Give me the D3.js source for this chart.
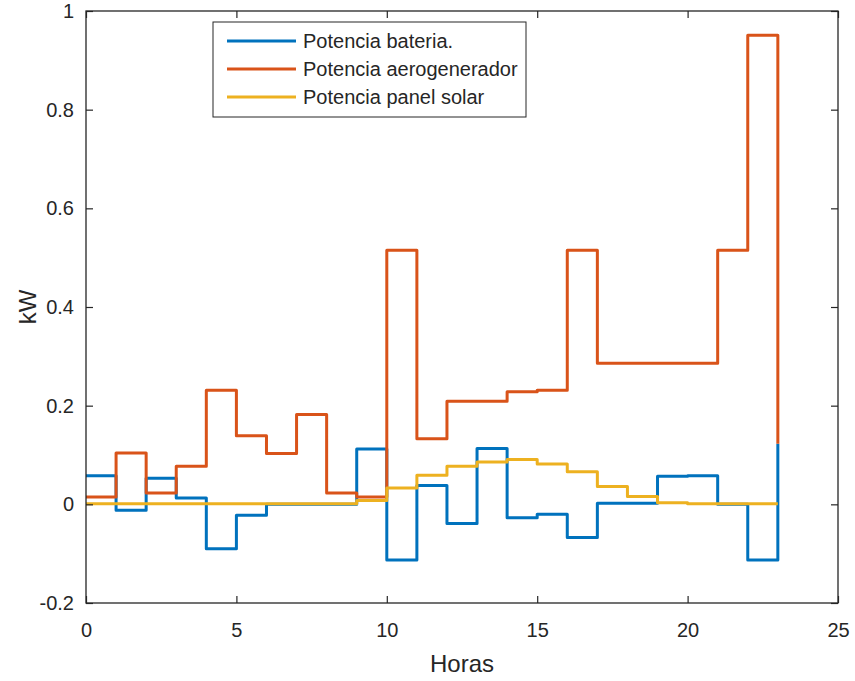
<!DOCTYPE html>
<html>
<head>
<meta charset="utf-8">
<script src="https://cdn.jsdelivr.net/npm/d3@7"></script>
<style>
  body { margin: 0; background: #fff; }
  svg text { font-family: "Liberation Sans", Arial, sans-serif; fill: #262626; }
</style>
</head>
<body>
<svg id="chart" width="855" height="681"></svg>
<script>
// --- datos ---
const horas = d3.range(0, 24);
const bateria = [0.058, -0.012, 0.053, 0.013, -0.09, -0.022, 0.0, 0.0, 0.0, 0.112,
                 -0.113, 0.038, -0.039, 0.113, -0.027, -0.02, -0.067, 0.002, 0.002, 0.057,
                 0.058, 0.0, -0.113, 0.123];
const aerogenerador = [0.015, 0.104, 0.023, 0.077, 0.231, 0.139, 0.103, 0.182, 0.023, 0.015,
                       0.515, 0.133, 0.209, 0.209, 0.228, 0.231, 0.515, 0.286, 0.286, 0.286,
                       0.286, 0.515, 0.951, 0.123];
const solar = [0.001, 0.001, 0.001, 0.001, 0.001, 0.001, 0.001, 0.001, 0.001, 0.008,
               0.033, 0.059, 0.077, 0.086, 0.091, 0.082, 0.066, 0.036, 0.016, 0.003,
               0.001, 0.001, 0.001, 0.001];
const series = [
  { nombre: 'Potencia bateria.', valores: bateria, color: '#0072BD' },
  { nombre: 'Potencia aerogenerador', valores: aerogenerador, color: '#D95319' },
  { nombre: 'Potencia panel solar', valores: solar, color: '#EDB120' }
];
const xTicks = [0, 5, 10, 15, 20, 25];
const yTicks = [-0.2, 0, 0.2, 0.4, 0.6, 0.8, 1];

const svg = d3.select('#chart');
const m = { left: 86, right: 838, top: 11, bottom: 603 };

const x = d3.scaleLinear().domain([0, 25]).range([m.left, m.right]);
const y = d3.scaleLinear().domain([-0.2, 1]).range([m.bottom, m.top]);

// series (escalones)
const line = d3.line()
  .x((d, i) => x(horas[i]))
  .y(d => y(d))
  .curve(d3.curveStepAfter);

svg.append('g').selectAll('path')
  .data(series)
  .join('path')
  .attr('d', d => line(d.valores))
  .attr('fill', 'none')
  .attr('stroke', d => d.color)
  .attr('stroke-width', 3)
  .attr('stroke-linejoin', 'round');

// ejes (caja estilo MATLAB, ticks hacia dentro)
const fmt = d => String(+d.toFixed(1)); // guion normal, como MATLAB
const axisColor = '#262626';
function styleAxis(g) {
  g.select('.domain').remove();
  g.selectAll('.tick line').attr('stroke', axisColor).attr('stroke-width', 1.2);
  g.selectAll('.tick text').attr('font-size', 20).attr('fill', axisColor)
    .style('font-family', '"Liberation Sans", Arial, sans-serif');
}
svg.append('g').attr('transform', `translate(0,${m.bottom})`)
  .call(d3.axisBottom(x).tickValues(xTicks).tickSize(-7).tickPadding(20).tickFormat(fmt))
  .call(styleAxis);
svg.append('g').attr('transform', `translate(0,${m.top})`)
  .call(d3.axisTop(x).tickValues(xTicks).tickSize(-7).tickFormat(''))
  .call(styleAxis);
svg.append('g').attr('transform', `translate(${m.left},0)`)
  .call(d3.axisLeft(y).tickValues(yTicks).tickSize(-7).tickPadding(12).tickFormat(fmt))
  .call(styleAxis);
svg.append('g').attr('transform', `translate(${m.right},0)`)
  .call(d3.axisRight(y).tickValues(yTicks).tickSize(-7).tickFormat(''))
  .call(styleAxis);

svg.append('rect')
  .attr('x', m.left).attr('y', m.top)
  .attr('width', m.right - m.left).attr('height', m.bottom - m.top)
  .attr('fill', 'none').attr('stroke', axisColor).attr('stroke-width', 1.3);

// etiquetas
svg.append('text')
  .attr('x', (m.left + m.right) / 2).attr('y', 672)
  .attr('text-anchor', 'middle').attr('font-size', 24)
  .text('Horas');
svg.append('text')
  .attr('transform', `translate(36,${(m.top + m.bottom) / 2}) rotate(-90)`)
  .attr('text-anchor', 'middle').attr('font-size', 24)
  .text('kW');

// leyenda
const leg = svg.append('g').attr('transform', 'translate(213,22)');
leg.append('rect')
  .attr('width', 313).attr('height', 95)
  .attr('fill', '#fff').attr('stroke', axisColor).attr('stroke-width', 1);
const items = leg.selectAll('g.item')
  .data(series)
  .join('g').attr('class', 'item')
  .attr('transform', (d, i) => `translate(0,${19 + i * 28})`);
items.append('line')
  .attr('x1', 14).attr('x2', 83)
  .attr('stroke', d => d.color).attr('stroke-width', 3);
items.append('text')
  .attr('x', 90).attr('dy', '0.35em')
  .attr('font-size', 20)
  .text(d => d.nombre);
</script>
</body>
</html>
